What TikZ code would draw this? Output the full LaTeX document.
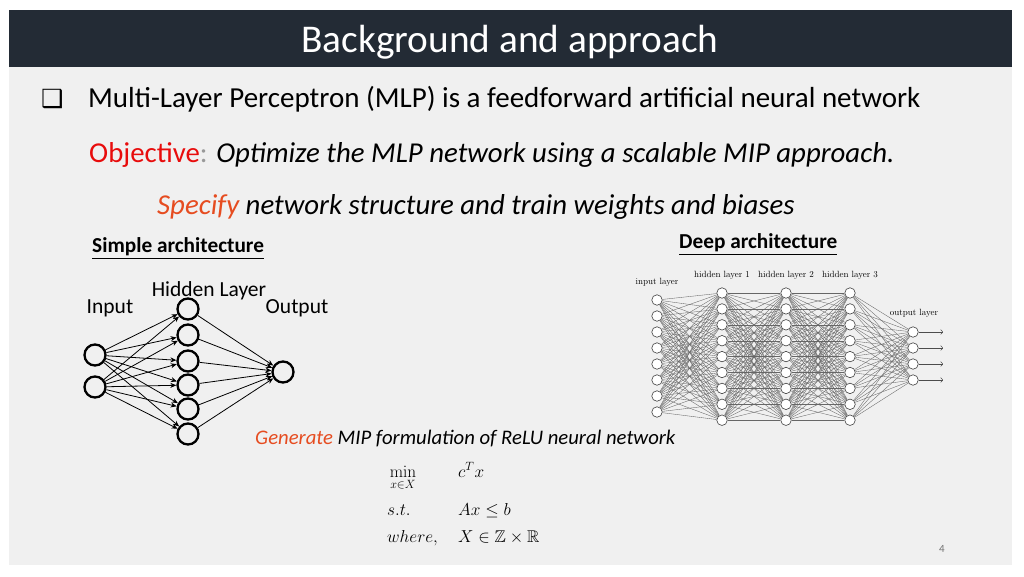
\documentclass[tikz,border=0pt]{standalone}
\usepackage{amsmath}
\usepackage{amssymb}
\usepackage[no-math]{fontspec}
\setmainfont{Carlito}
\newfontfamily\symfont{DejaVu Sans}
\newfontfamily\cmfont{lmroman10-regular.otf}
\usetikzlibrary{arrows.meta}

\definecolor{titlebar}{RGB}{35,43,53}
\definecolor{slidegrey}{RGB}{240,240,240}
\definecolor{objred}{RGB}{232,12,12}
\definecolor{actorange}{RGB}{230,76,32}

\begin{document}
\begin{tikzpicture}[x=1pt,y=-1pt,
  neuron/.style={circle,draw,line width=2.3pt,minimum size=21pt,inner sep=0pt},
  dneuron/.style={circle,draw=black!75,fill=white,line width=0.6pt,minimum size=10.5pt,inner sep=0pt},
  wire/.style={line width=0.8pt,-{Stealth[length=6pt,width=5pt]}},
  dwire/.style={draw=black!60,line width=0.35pt},
  txt/.style={inner sep=0pt},
  dlabel/.style={font=\cmfont\fontsize{9}{10}\selectfont},
  plain/.style={txt,font=\fontsize{21.5}{24}\selectfont},
  mathtxt/.style={txt,anchor=base west,font=\fontsize{17}{20}\selectfont}]
  \useasboundingbox (0,0) rectangle (1024,576);
  \fill[white] (0,0) rectangle (1024,576);
  \fill[slidegrey] (9,10) rectangle (1012,565);
  \fill[titlebar] (9,10) rectangle (1012,67);

  % title and text lines
  \node[txt,anchor=base,text=white,font=\fontsize{39.3}{42}\selectfont] (title) at (510,52) {Background and approach};
  \node[txt,anchor=base west,font=\symfont\fontsize{25}{27}\selectfont] (box) at (41,107) {❑};
  \node[txt,anchor=base west,font=\fontsize{29}{32}\selectfont] (mlp) at (88,107)
    {Multi-Layer Perceptron (MLP) is a feedforward artificial neural network};
  \node[txt,anchor=base west,font=\fontsize{28.8}{32}\selectfont] (obj) at (89,162)
    {\textcolor{objred}{Objective}\textcolor{black!40}{:} \itshape Optimize the MLP network using a scalable MIP approach.};
  \node[txt,anchor=base west,font=\itshape\fontsize{28.8}{32}\selectfont] (spec) at (157,214)
    {\textcolor{actorange}{Specify} network structure and train weights and biases};
  \node[txt,anchor=base west,font=\bfseries\fontsize{21.3}{24}\selectfont] (simple) at (92,252) {\underline{Simple architecture}};
  \node[txt,anchor=base west,font=\bfseries\fontsize{21.3}{24}\selectfont] (deep) at (679,248) {\underline{Deep architecture}};

  % simple network
  \node[plain] (hlab) at (209,291) {Hidden Layer};
  \node[plain] (inlab) at (110,308) {Input};
  \node[plain] (outlab) at (297,308) {Output};
  \node[neuron] (x1) at (95,355) {};
  \node[neuron] (x2) at (95,387) {};
  \foreach \j/\y in {1/309,2/335,3/361,4/385,5/409,6/434}
    \node[neuron] (h\j) at (188,\y) {};
  \node[neuron] (y1) at (283,372) {};
  \foreach \i in {1,2}
    \foreach \j in {1,...,6}
      \draw[wire] (x\i) -- (h\j);
  \foreach \j in {1,...,6}
    \draw[wire] (h\j) -- (y1);

  % deep network
  \foreach \i in {1,...,8}
    \node[dneuron] (d0\i) at (657,{300+16*(\i-1)}) {};
  \foreach \l/\x in {1/722,2/786,3/850}
    \foreach \i in {1,...,9}
      \node[dneuron] (d\l\i) at (\x,{293+15.9*(\i-1)}) {};
  \foreach \i in {1,...,4}
    \node[dneuron] (d4\i) at (913,{332+16*(\i-1)}) {};
  \foreach \i in {1,...,8}
    \foreach \j in {1,...,9}
      \draw[dwire] (d0\i) -- (d1\j);
  \foreach \i in {1,...,9}
    \foreach \j in {1,...,9}
      \draw[dwire] (d1\i) -- (d2\j) (d2\i) -- (d3\j);
  \foreach \i in {1,...,9}
    \foreach \j in {1,...,4}
      \draw[dwire] (d3\i) -- (d4\j);
  \foreach \i in {1,...,4} {
    \coordinate (o\i) at (943,{332+16*(\i-1)});
    \draw[draw=black!70,line width=0.5pt,-{To[length=2.5pt]}] (d4\i) -- (o\i);
  }
  \node[dlabel] (lin) at (657,282) {input layer};
  \node[dlabel] (lh1) at (722,275) {hidden layer 1};
  \node[dlabel] (lh2) at (786,275) {hidden layer 2};
  \node[dlabel] (lh3) at (850,275) {hidden layer 3};
  \node[dlabel] (lout) at (914,313) {output layer};

  % formulation
  \node[txt,anchor=base west,font=\itshape\fontsize{20.7}{23}\selectfont] (gen) at (255,444)
    {\textcolor{actorange}{Generate} MIP formulation of ReLU neural network};
  \node[txt,anchor=base,font=\fontsize{17}{20}\selectfont] (fmin) at (403,477) {$\displaystyle\min_{x\in X}$};
  \node[mathtxt] (fobj) at (458,477) {$c^T x$};
  \node[mathtxt] (fst) at (387,515) {$s.t.$};
  \node[mathtxt] (fcon) at (458,515) {$Ax \leq b$};
  \node[mathtxt] (fwh) at (387,542) {$where,$};
  \node[mathtxt] (fdom) at (458,542) {$X \in \mathbb{Z} \times \mathbb{R}$};

  \node[txt,text=black!55,font=\fontsize{11}{13}\selectfont] (pagenum) at (942,549) {4};
\end{tikzpicture}
\end{document}
